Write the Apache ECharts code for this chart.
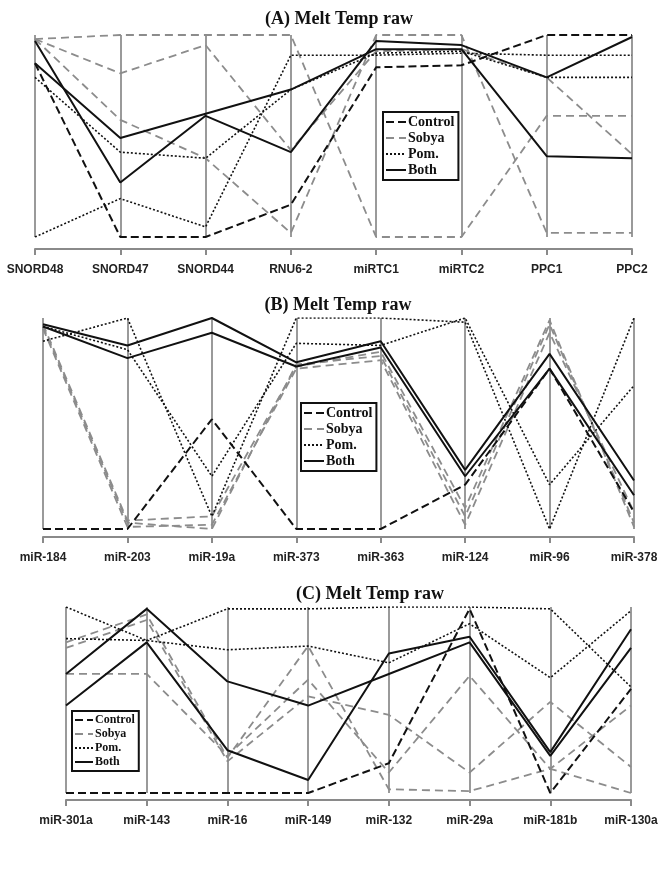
<!DOCTYPE html>
<html>
<head>
<meta charset="utf-8">
<script src="https://cdn.jsdelivr.net/npm/echarts@6/dist/echarts.min.js"></script>
<style>
html,body{margin:0;padding:0;background:#fff;}
#chart{width:669px;height:872px;}
</style>
</head>
<body>
<div id="chart"></div>
<script>
// Categories (axes) for each panel
const catsA = ['SNORD48','SNORD47','SNORD44','RNU6-2','miRTC1','miRTC2','PPC1','PPC2'];
const catsB = ['miR-184','miR-203','miR-19a','miR-373','miR-363','miR-124','miR-96','miR-378'];
const catsC = ['miR-301a','miR-143','miR-16','miR-149','miR-132','miR-29a','miR-181b','miR-130a'];

// Panel A (normalised melt temp, 0 = axis bottom, 1 = axis top)
const A_control1 = [0.86, 0, 0, 0.16, 0.84, 0.85, 1.0, 1.0];
const A_sobya1 = [0.98, 1.0, 1.0, 1.0, 0, 0, 0.60, 0.60];
const A_sobya2 = [0.98, 0.81, 0.95, 0.43, 0.92, 0.93, 0.79, 0.41];
const A_sobya3 = [0.98, 0.58, 0.39, 0.02, 1.0, 1.0, 0.02, 0.02];
const A_pom1 = [0.79, 0.42, 0.39, 0.73, 0.91, 0.92, 0.79, 0.79];
const A_pom2 = [0, 0.19, 0.05, 0.90, 0.90, 0.91, 0.90, 0.90];
const A_both1 = [0.97, 0.27, 0.60, 0.42, 0.97, 0.95, 0.79, 0.99];
const A_both2 = [0.86, 0.49, 0.61, 0.73, 0.93, 0.93, 0.40, 0.39];

// Panel B
const B_control1 = [0, 0, 0.52, 0, 0, 0.21, 0.76, 0.08];
const B_sobya1 = [0.96, 0.03, 0.00, 0.78, 0.82, 0.06, 0.97, 0.03];
const B_sobya2 = [0.95, 0.01, 0.02, 0.76, 0.80, 0.02, 0.93, 0.08];
const B_sobya3 = [0.97, 0.04, 0.06, 0.77, 0.84, 0.10, 0.99, 0.01];
const B_pom1 = [0.89, 1.0, 0.06, 1.0, 1.0, 0.98, 0.0, 1.0];
const B_pom2 = [0.96, 0.85, 0.25, 0.88, 0.87, 1.0, 0.21, 0.68];
const B_both1 = [0.97, 0.87, 1.0, 0.79, 0.89, 0.28, 0.83, 0.23];
const B_both2 = [0.96, 0.81, 0.93, 0.77, 0.86, 0.25, 0.76, 0.16];

// Panel C
const C_control1 = [0, 0, 0, 0, 0.16, 0.99, 0, 0.56];
const C_sobya1 = [0.64, 0.64, 0.20, 0.61, 0.11, 0.63, 0.13, 0.47];
const C_sobya2 = [0.81, 0.96, 0.19, 0.79, 0.02, 0.01, 0.13, 0.00];
const C_sobya3 = [0.78, 0.93, 0.17, 0.52, 0.42, 0.11, 0.49, 0.14];
const C_pom1 = [1.0, 0.82, 0.77, 0.79, 0.70, 0.91, 0.62, 0.98];
const C_pom2 = [0.83, 0.82, 0.99, 0.99, 1.0, 1.0, 0.99, 0.57];
const C_both1 = [0.64, 0.99, 0.60, 0.47, 0.64, 0.81, 0.20, 0.78];
const C_both2 = [0.47, 0.81, 0.23, 0.07, 0.75, 0.84, 0.22, 0.88];

const titles = ['(A) Melt Temp raw', '(B) Melt Temp raw', '(C) Melt Temp raw'];
const groupNames = ['Control', 'Sobya', 'Pom.', 'Both'];

const styles = {
  'Control': {color: '#111', width: 2, type: [8, 4]},
  'Sobya': {color: '#8c8c8c', width: 1.8, type: [8, 5]},
  'Pom.': {color: '#111', width: 1.6, type: [2, 2]},
  'Both': {color: '#111', width: 2, type: 'solid'}
};

const panels = [
  {cats: catsA, series: [['Sobya', A_sobya1], ['Sobya', A_sobya2], ['Sobya', A_sobya3], ['Control', A_control1], ['Pom.', A_pom1], ['Pom.', A_pom2], ['Both', A_both1], ['Both', A_both2]],
   grid: {left: 35, right: 37, top: 35, height: 202}, offset: 12, title: {x: 334, y: 5}, legend: {left: 383, top: 112, iw: 20, fs: 14}},
  {cats: catsB, series: [['Sobya', B_sobya1], ['Sobya', B_sobya2], ['Sobya', B_sobya3], ['Control', B_control1], ['Pom.', B_pom1], ['Pom.', B_pom2], ['Both', B_both1], ['Both', B_both2]],
   grid: {left: 43, right: 35, top: 318, height: 211}, offset: 8, title: {x: 333, y: 291}, legend: {left: 301, top: 403, iw: 20, fs: 14}},
  {cats: catsC, series: [['Sobya', C_sobya1], ['Sobya', C_sobya2], ['Sobya', C_sobya3], ['Control', C_control1], ['Pom.', C_pom1], ['Pom.', C_pom2], ['Both', C_both1], ['Both', C_both2]],
   grid: {left: 66, right: 38, top: 607, height: 186}, offset: 7, title: {x: 365, y: 580}, legend: {left: 72, top: 711, iw: 18, fs: 12}}
];

const option = {
  animation: false,
  backgroundColor: '#fff',
  title: [], grid: [], xAxis: [], yAxis: [], legend: [], series: []
};

panels.forEach((p, i) => {
  option.title.push({
    text: titles[i], left: p.title.x, top: p.title.y, textAlign: 'center',
    textStyle: {fontFamily: 'Liberation Serif', fontWeight: 'bold', fontSize: 18, color: '#111'}
  });
  option.grid.push(Object.assign({containLabel: false}, p.grid));
  option.xAxis.push({
    type: 'category', gridIndex: i, data: p.cats, boundaryGap: false, offset: p.offset,
    axisLine: {show: true, onZero: false, lineStyle: {color: '#8a8a8a', width: 2}},
    axisTick: {show: true, length: 6, lineStyle: {color: '#8a8a8a', width: 2}},
    axisLabel: {margin: 15, fontFamily: 'Liberation Sans', fontWeight: 'bold', fontSize: 12, color: '#222', interval: 0},
    splitLine: {show: true, showMinLine: true, showMaxLine: true, lineStyle: {color: '#9a9a9a', width: 2}}
  });
  option.yAxis.push({type: 'value', gridIndex: i, min: 0, max: 1, show: false, splitLine: {show: false}});
  option.legend.push({
    left: p.legend.left, top: p.legend.top, orient: 'vertical', data: groupNames,
    selectedMode: false, backgroundColor: '#fff', borderColor: '#111', borderWidth: 2, borderRadius: 0,
    padding: [3, 4, 3, 2], itemGap: 2, itemWidth: p.legend.iw, itemHeight: 12,
    itemStyle: {color: 'rgba(0,0,0,0)', borderWidth: 0, opacity: 0},
    textStyle: {fontFamily: 'Liberation Serif', fontWeight: 'bold', fontSize: p.legend.fs, color: '#111', padding: [0, 0, 0, -3]}
  });
  p.series.forEach(([name, vals]) => {
    const s = styles[name];
    option.series.push({
      type: 'line', name: name, xAxisIndex: i, yAxisIndex: i, data: vals,
      symbol: 'none', silent: true,
      lineStyle: {color: s.color, width: s.width, type: s.type},
      itemStyle: {color: s.color}
    });
  });
});

const chart = echarts.init(document.getElementById('chart'), null, {renderer: 'canvas'});
chart.setOption(option);
</script>
</body>
</html>
